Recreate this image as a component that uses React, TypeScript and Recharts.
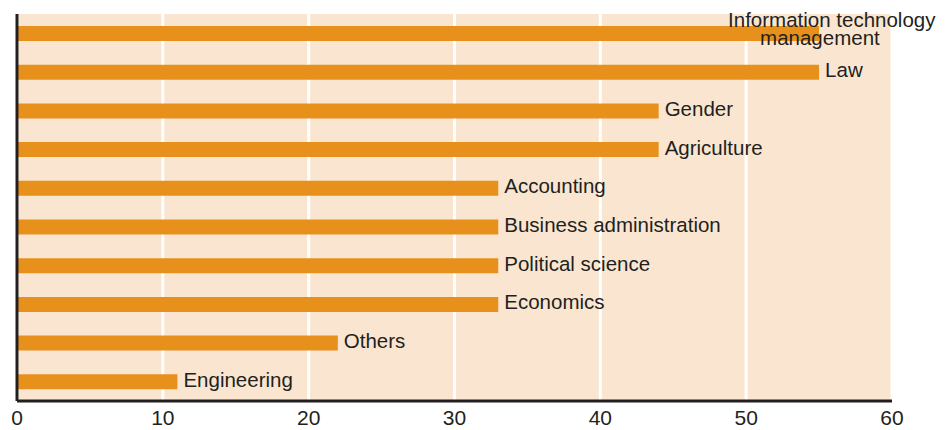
import { Bar, BarChart, CartesianGrid, LabelList, ReferenceLine, XAxis, YAxis } from "recharts";

const fields = [
  "Information technology management",
  "Law",
  "Gender",
  "Agriculture",
  "Accounting",
  "Business administration",
  "Political science",
  "Economics",
  "Others",
  "Engineering",
];
const shares = [55, 55, 44, 44, 33, 33, 33, 33, 22, 11];
const xTicks = [0, 10, 20, 30, 40, 50, 60];

const rows = fields.map((name, i) => ({ name, value: shares[i] }));

const FONT = '"Liberation Sans", Arial, sans-serif';
const INK = "#231f20";

// bar-end label; the long first one is wrapped back over the bar like the original
function FieldLabel(props: any) {
  const { x, y, width, height, value } = props;
  const endX = x + width;
  const midY = y + height / 2;
  if (value === fields[0]) {
    return (
      <text fontFamily={FONT} fontSize={20.5} fill={INK}>
        <tspan x={endX - 91} y={midY - 7}>Information technology</tspan>
        <tspan x={endX - 59} y={midY + 11}>management</tspan>
      </text>
    );
  }
  return (
    <text x={endX + 6} y={midY + 5} fontFamily={FONT} fontSize={20.5} fill={INK}>
      {value}
    </text>
  );
}

export default function App() {
  return (
    <div style={{ position: "absolute", left: 0, top: 0 }}>
      <BarChart
        width={951}
        height={430}
        data={rows}
        layout="vertical"
        margin={{ top: 14, right: 59, bottom: 0, left: 17 }}
        barSize={15}
      >
        <CartesianGrid
          horizontal={false}
          fill="#fae6d0"
          stroke="#ffffff"
          strokeWidth={3}
        />
        <XAxis
          type="number"
          domain={[0, 60]}
          ticks={xTicks}
          height={29}
          tickLine={false}
          tickSize={0}
          tickMargin={9}
          axisLine={{ stroke: INK, strokeWidth: 3 }}
          tick={{ fill: INK, fontSize: 21, fontFamily: FONT }}
        />
        <YAxis type="category" dataKey="name" width={0} tick={false} tickLine={false} axisLine={false} />
        <Bar dataKey="value" fill="#e8901c" isAnimationActive={false}>
          <LabelList dataKey="name" content={FieldLabel} />
        </Bar>
        <ReferenceLine x={0} stroke={INK} strokeWidth={3} ifOverflow="visible" />
      </BarChart>
    </div>
  );
}
